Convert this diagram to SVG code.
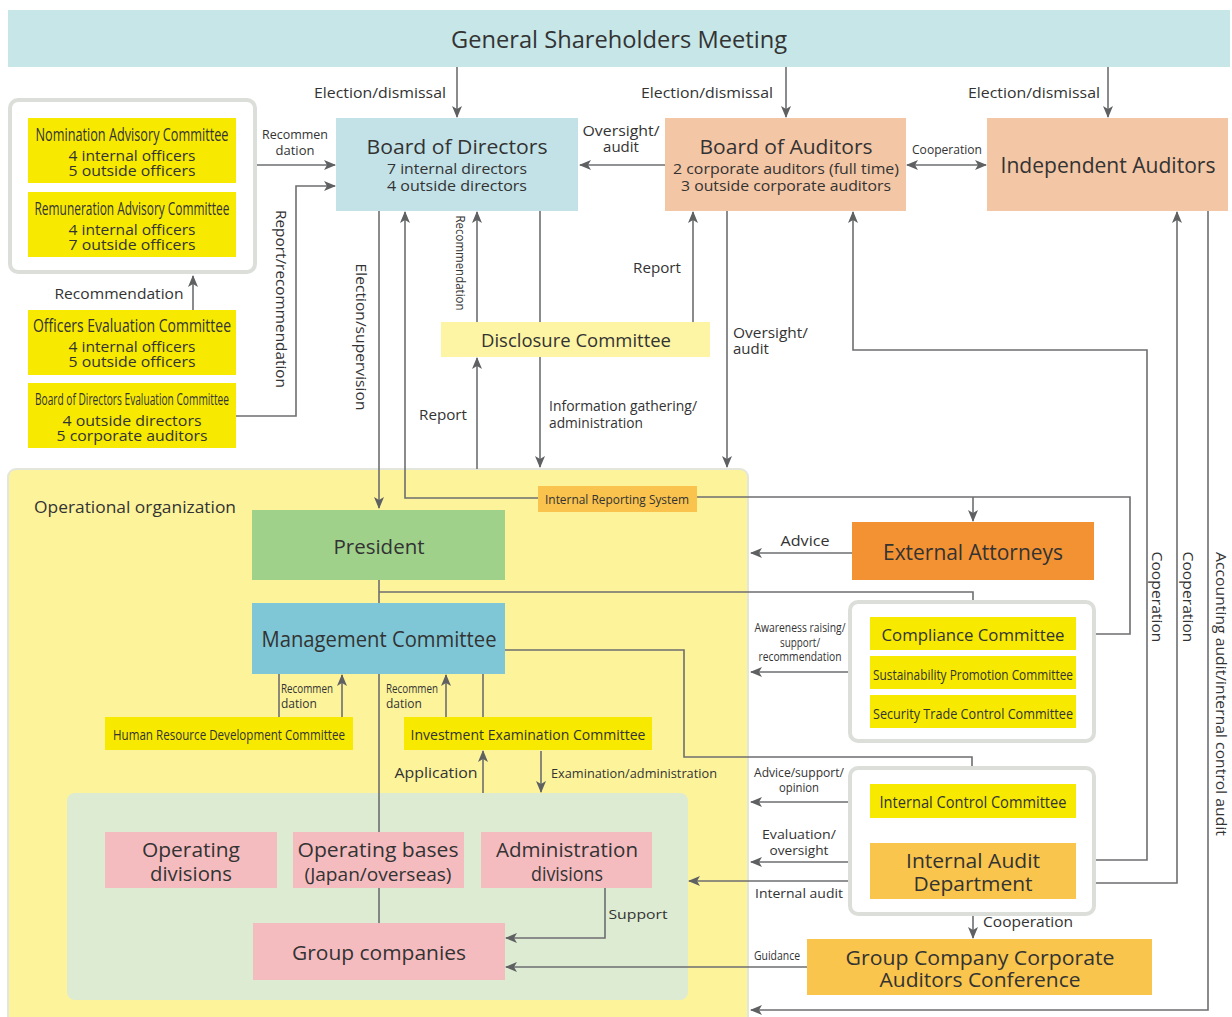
<svg xmlns="http://www.w3.org/2000/svg" width="1232" height="1017" viewBox="0 0 1232 1017">
<defs>
<marker id="ah" markerUnits="userSpaceOnUse" markerWidth="12" markerHeight="10" refX="11" refY="5" orient="auto-start-reverse">
<path d="M0,0 L12,5 L0,10 L3,5 z" fill="#5f6062"/>
</marker>
<style>
text{font-family:"Open Sans","Noto Sans","Liberation Sans",sans-serif;fill:#333;text-anchor:middle}
.ln{fill:none;stroke:#6d6e70;stroke-width:1.6}
.a{marker-end:url(#ah)}
.b{marker-start:url(#ah);marker-end:url(#ah)}
.grp{fill:#fff;stroke:#dcdfd9;stroke-width:4}
.yel{fill:#f7ea00}
.lbl{font-size:15px}
.sm{font-size:13px}
.t18{font-size:18px}
.t20{font-size:20px}
.t21{font-size:21px}
.st{text-anchor:start}
.en{text-anchor:end}
</style>
</defs>
<rect width="1232" height="1017" fill="#fff"/>

<!-- Background regions -->
<g id="operational-organization">
<rect x="8" y="469" width="740" height="560" rx="8" fill="#fdf39b" stroke="#e4e6dc" stroke-width="2"/>
<text x="34" y="513" class="st" style="font-size:17px" textLength="202" lengthAdjust="spacingAndGlyphs">Operational organization</text>
</g>
<g id="divisions-area">
<rect x="67" y="793" width="621" height="207" rx="8" fill="#dcebd2"/>
</g>

<g id="connectors">
<path class="ln a" d="M457,67 V117"/>
<path class="ln a" d="M786,67 V117"/>
<path class="ln a" d="M1108,67 V117"/>
<path class="ln a" d="M665,165 H580"/>
<path class="ln b" d="M907,165 H986"/>
<path class="ln a" d="M255,165 H335"/>
<path class="ln a" d="M236,416 H296 V186 H335"/>
<path class="ln a" d="M193,310 V276"/>
<path class="ln a" d="M379,211 V508"/>
<path class="ln a" d="M538,498 H405 V212"/>
<path class="ln a" d="M697,497 H1130 V634 H1078"/>
<path class="ln a" d="M973,497 V521"/>
<path class="ln a" d="M477,322 V212"/>
<path class="ln a" d="M540,211 V467"/>
<path class="ln a" d="M477,469 V358"/>
<path class="ln a" d="M693,322 V212"/>
<path class="ln a" d="M727,211 V467"/>
<path class="ln b" d="M1078,860 H1147 V350 H853 V212"/>
<path class="ln b" d="M1078,883 H1177 V212"/>
<path class="ln a" d="M1208,211 V1010 H751"/>
<path class="ln" d="M379,580 V603"/>
<path class="ln" d="M379,592 H973 V602"/>
<path class="ln" d="M505,650 H684 V757 H972 V768"/>
<path class="ln" d="M379,674 V832"/>
<path class="ln" d="M379,888 V923"/>
<path class="ln" d="M279,717 V674"/>
<path class="ln a" d="M342,717 V675"/>
<path class="ln a" d="M446,717 V675"/>
<path class="ln" d="M483,717 V674"/>
<path class="ln a" d="M483,793 V751"/>
<path class="ln a" d="M541,751 V792"/>
<path class="ln a" d="M605,888 V938 H506"/>
<path class="ln a" d="M807,967 H506"/>
<path class="ln a" d="M870,881 H689"/>
<path class="ln a" d="M870,862 H751"/>
<path class="ln a" d="M870,802 H751"/>
<path class="ln a" d="M878,672 H751"/>
<path class="ln a" d="M852,553 H751"/>
<path class="ln a" d="M973,818 V842"/>
<path class="ln b" d="M973,900 V938"/>
</g>

<g id="connector-labels">
<text x="380" y="98" class="lbl" textLength="132" lengthAdjust="spacingAndGlyphs">Election/dismissal</text>
<text x="707" y="98" class="lbl" textLength="132" lengthAdjust="spacingAndGlyphs">Election/dismissal</text>
<text x="1034" y="98" class="lbl" textLength="132" lengthAdjust="spacingAndGlyphs">Election/dismissal</text>
<text x="621" y="136" class="lbl" textLength="77" lengthAdjust="spacingAndGlyphs">Oversight/</text>
<text x="621" y="152" class="lbl">audit</text>
<text x="947" y="154" class="sm" textLength="70" lengthAdjust="spacingAndGlyphs">Cooperation</text>
<text x="295" y="139" class="sm" textLength="66" lengthAdjust="spacingAndGlyphs">Recommen</text>
<text x="295" y="155" class="sm">dation</text>
<text x="281" y="299" class="lbl" transform="rotate(90 281 299)" textLength="178" lengthAdjust="spacingAndGlyphs" dy="5">Report/recommendation</text>
<text x="119" y="299" class="lbl" textLength="129" lengthAdjust="spacingAndGlyphs">Recommendation</text>
<text x="361" y="337" class="lbl" transform="rotate(90 361 337)" textLength="147" lengthAdjust="spacingAndGlyphs" dy="5">Election/supervision</text>
<text x="461" y="263" class="sm" transform="rotate(90 461 263)" textLength="95" lengthAdjust="spacingAndGlyphs" dy="5">Recommendation</text>
<text x="657" y="273" class="lbl" textLength="48" lengthAdjust="spacingAndGlyphs">Report</text>
<text x="443" y="420" class="lbl" textLength="48" lengthAdjust="spacingAndGlyphs">Report</text>
<text x="549" y="411" class="lbl st" textLength="148" lengthAdjust="spacingAndGlyphs">Information gathering/</text>
<text x="549" y="428" class="lbl st" textLength="94" lengthAdjust="spacingAndGlyphs">administration</text>
<text x="733" y="338" class="lbl st" textLength="75" lengthAdjust="spacingAndGlyphs">Oversight/</text>
<text x="733" y="354" class="lbl st">audit</text>
<text x="805" y="546" class="lbl" textLength="49" lengthAdjust="spacingAndGlyphs">Advice</text>
<text x="800" y="632" style="font-size:12px" textLength="91" lengthAdjust="spacingAndGlyphs">Awareness raising/</text>
<text x="800" y="647" style="font-size:12px" textLength="40" lengthAdjust="spacingAndGlyphs">support/</text>
<text x="800" y="661" style="font-size:12px" textLength="83" lengthAdjust="spacingAndGlyphs">recommendation</text>
<text x="799" y="777" style="font-size:13px" textLength="90" lengthAdjust="spacingAndGlyphs">Advice/support/</text>
<text x="799" y="792" style="font-size:13px" textLength="40" lengthAdjust="spacingAndGlyphs">opinion</text>
<text x="799" y="839" class="sm" textLength="74" lengthAdjust="spacingAndGlyphs">Evaluation/</text>
<text x="799" y="855" class="sm" textLength="59" lengthAdjust="spacingAndGlyphs">oversight</text>
<text x="799" y="898" class="sm" textLength="88" lengthAdjust="spacingAndGlyphs">Internal audit</text>
<text x="777" y="960" style="font-size:12px" textLength="46" lengthAdjust="spacingAndGlyphs">Guidance</text>
<text x="983" y="837" class="sm st" textLength="44" lengthAdjust="spacingAndGlyphs">Advice</text>
<text x="983" y="927" class="lbl st" textLength="90" lengthAdjust="spacingAndGlyphs">Cooperation</text>
<text x="1157" y="597" class="lbl" transform="rotate(90 1157 597)" textLength="91" lengthAdjust="spacingAndGlyphs" dy="5">Cooperation</text>
<text x="1188" y="597" class="lbl" transform="rotate(90 1188 597)" textLength="91" lengthAdjust="spacingAndGlyphs" dy="5">Cooperation</text>
<text x="1221" y="694" class="lbl" transform="rotate(90 1221 694)" textLength="284" lengthAdjust="spacingAndGlyphs" dy="5">Accounting audit/internal control audit</text>
<text x="281" y="693" class="st" style="font-size:12px" textLength="52" lengthAdjust="spacingAndGlyphs">Recommen</text>
<text x="281" y="708" class="st" style="font-size:12px">dation</text>
<text x="386" y="693" class="st" style="font-size:12px" textLength="52" lengthAdjust="spacingAndGlyphs">Recommen</text>
<text x="386" y="708" class="st" style="font-size:12px">dation</text>
<text x="436" y="778" class="lbl" textLength="83" lengthAdjust="spacingAndGlyphs">Application</text>
<text x="551" y="778" class="sm st" textLength="166" lengthAdjust="spacingAndGlyphs">Examination/administration</text>
<text x="638" y="919" class="sm" textLength="59" lengthAdjust="spacingAndGlyphs">Support</text>
</g>

<g id="general-shareholders-meeting">
<rect x="8" y="10" width="1222" height="57" fill="#c6e6e8"/>
<text x="619" y="48" style="font-size:23px" textLength="336" lengthAdjust="spacingAndGlyphs">General Shareholders Meeting</text>
</g>
<g id="board-of-directors">
<rect x="336" y="118" width="242" height="93" fill="#c2e2e8"/>
<text x="457" y="154" class="t20" textLength="181" lengthAdjust="spacingAndGlyphs">Board of Directors</text>
<text x="457" y="174" class="lbl" textLength="140" lengthAdjust="spacingAndGlyphs">7 internal directors</text>
<text x="457" y="191" class="lbl" textLength="140" lengthAdjust="spacingAndGlyphs">4 outside directors</text>
</g>
<g id="board-of-auditors">
<rect x="665" y="118" width="241" height="93" fill="#f3c6a5"/>
<text x="786" y="154" class="t20" textLength="173" lengthAdjust="spacingAndGlyphs">Board of Auditors</text>
<text x="786" y="174" class="lbl" textLength="226" lengthAdjust="spacingAndGlyphs">2 corporate auditors (full time)</text>
<text x="786" y="191" class="lbl" textLength="210" lengthAdjust="spacingAndGlyphs">3 outside corporate auditors</text>
</g>
<g id="independent-auditors">
<rect x="987" y="118" width="241" height="93" fill="#f3c6a5"/>
<text x="1108" y="173" class="t21" textLength="215" lengthAdjust="spacingAndGlyphs">Independent Auditors</text>
</g>

<g id="advisory-committees">
<rect x="10" y="100" width="245" height="172" rx="8" class="grp"/>
</g>
<g id="nomination-advisory-committee">
<rect x="28" y="118" width="208" height="65" class="yel"/>
<text x="132" y="141" class="t18" textLength="193" lengthAdjust="spacingAndGlyphs">Nomination Advisory Committee</text>
<text x="132" y="161" class="lbl" textLength="127" lengthAdjust="spacingAndGlyphs">4 internal officers</text>
<text x="132" y="176" class="lbl" textLength="127" lengthAdjust="spacingAndGlyphs">5 outside officers</text>
</g>
<g id="remuneration-advisory-committee">
<rect x="28" y="192" width="208" height="65" class="yel"/>
<text x="132" y="215" class="t18" textLength="195" lengthAdjust="spacingAndGlyphs">Remuneration Advisory Committee</text>
<text x="132" y="235" class="lbl" textLength="127" lengthAdjust="spacingAndGlyphs">4 internal officers</text>
<text x="132" y="250" class="lbl" textLength="127" lengthAdjust="spacingAndGlyphs">7 outside officers</text>
</g>
<g id="officers-evaluation-committee">
<rect x="28" y="310" width="208" height="65" class="yel"/>
<text x="132" y="332" class="t18" textLength="198" lengthAdjust="spacingAndGlyphs">Officers Evaluation Committee</text>
<text x="132" y="352" class="lbl" textLength="127" lengthAdjust="spacingAndGlyphs">4 internal officers</text>
<text x="132" y="367" class="lbl" textLength="127" lengthAdjust="spacingAndGlyphs">5 outside officers</text>
</g>
<g id="board-of-directors-evaluation-committee">
<rect x="28" y="383" width="208" height="65" class="yel"/>
<text x="132" y="405" style="font-size:16px" textLength="194" lengthAdjust="spacingAndGlyphs">Board of Directors Evaluation Committee</text>
<text x="132" y="426" class="lbl" textLength="139" lengthAdjust="spacingAndGlyphs">4 outside directors</text>
<text x="132" y="441" class="lbl" textLength="151" lengthAdjust="spacingAndGlyphs">5 corporate auditors</text>
</g>

<g id="disclosure-committee">
<rect x="441" y="322" width="269" height="35" fill="#fdf5a3"/>
<text x="576" y="347" class="t18" textLength="190" lengthAdjust="spacingAndGlyphs">Disclosure Committee</text>
</g>
<g id="internal-reporting-system">
<rect x="538" y="486" width="159" height="26" fill="#f9c34e"/>
<text x="617" y="504" class="sm" textLength="144" lengthAdjust="spacingAndGlyphs">Internal Reporting System</text>
</g>
<g id="president">
<rect x="252" y="510" width="253" height="70" fill="#9fd18b"/>
<text x="379" y="554" class="t20" textLength="91" lengthAdjust="spacingAndGlyphs">President</text>
</g>
<g id="management-committee">
<rect x="252" y="603" width="253" height="71" fill="#7fc7d6"/>
<text x="379" y="647" class="t21" textLength="235" lengthAdjust="spacingAndGlyphs">Management Committee</text>
</g>
<g id="human-resource-development-committee">
<rect x="105" y="717" width="248" height="33" class="yel"/>
<text x="229" y="740" class="lbl" textLength="232" lengthAdjust="spacingAndGlyphs">Human Resource Development Committee</text>
</g>
<g id="investment-examination-committee">
<rect x="404" y="717" width="248" height="33" class="yel"/>
<text x="528" y="740" class="lbl" textLength="235" lengthAdjust="spacingAndGlyphs">Investment Examination Committee</text>
</g>
<g id="operating-divisions">
<rect x="105" y="832" width="172" height="56" fill="#f5bcc0"/>
<text x="191" y="857" class="t20" textLength="98" lengthAdjust="spacingAndGlyphs">Operating</text>
<text x="191" y="881" class="t20" textLength="82" lengthAdjust="spacingAndGlyphs">divisions</text>
</g>
<g id="operating-bases">
<rect x="293" y="832" width="171" height="56" fill="#f5bcc0"/>
<text x="378" y="857" class="t20" textLength="161" lengthAdjust="spacingAndGlyphs">Operating bases</text>
<text x="378" y="881" class="t18" textLength="147" lengthAdjust="spacingAndGlyphs">(Japan/overseas)</text>
</g>
<g id="administration-divisions">
<rect x="481" y="832" width="171" height="56" fill="#f5bcc0"/>
<text x="567" y="857" class="t20" textLength="142" lengthAdjust="spacingAndGlyphs">Administration</text>
<text x="567" y="881" class="t20" textLength="72" lengthAdjust="spacingAndGlyphs">divisions</text>
</g>
<g id="group-companies">
<rect x="253" y="923" width="252" height="57" fill="#f5bcc0"/>
<text x="379" y="960" class="t20" textLength="174" lengthAdjust="spacingAndGlyphs">Group companies</text>
</g>

<g id="external-attorneys">
<rect x="852" y="522" width="242" height="58" fill="#f39232"/>
<text x="973" y="560" class="t21" textLength="180" lengthAdjust="spacingAndGlyphs">External Attorneys</text>
</g>
<g id="compliance-group">
<rect x="850" y="602" width="244" height="139" rx="8" class="grp"/>
</g>
<g id="compliance-committee">
<rect x="870" y="617" width="206" height="33" class="yel"/>
<text x="973" y="641" style="font-size:17px" textLength="183" lengthAdjust="spacingAndGlyphs">Compliance Committee</text>
</g>
<g id="sustainability-promotion-committee">
<rect x="870" y="656" width="206" height="33" class="yel"/>
<text x="973" y="680" class="lbl" textLength="200" lengthAdjust="spacingAndGlyphs">Sustainability Promotion Committee</text>
</g>
<g id="security-trade-control-committee">
<rect x="870" y="695" width="206" height="33" class="yel"/>
<text x="973" y="719" class="lbl" textLength="200" lengthAdjust="spacingAndGlyphs">Security Trade Control Committee</text>
</g>
<g id="internal-control-group">
<rect x="850" y="768" width="244" height="146" rx="8" class="grp"/>
</g>
<g id="internal-control-committee">
<rect x="870" y="784" width="206" height="34" class="yel"/>
<text x="973" y="808" style="font-size:16px" textLength="187" lengthAdjust="spacingAndGlyphs">Internal Control Committee</text>
</g>
<g id="internal-audit-department">
<rect x="870" y="843" width="206" height="56" fill="#f9c54d"/>
<text x="973" y="868" class="t20" textLength="134" lengthAdjust="spacingAndGlyphs">Internal Audit</text>
<text x="973" y="891" class="t20" textLength="119" lengthAdjust="spacingAndGlyphs">Department</text>
</g>
<g id="group-company-corporate-auditors-conference">
<rect x="807" y="939" width="345" height="56" fill="#f9c54d"/>
<text x="980" y="965" class="t20" textLength="269" lengthAdjust="spacingAndGlyphs">Group Company Corporate</text>
<text x="980" y="987" class="t20" textLength="201" lengthAdjust="spacingAndGlyphs">Auditors Conference</text>
</g>
</svg>
